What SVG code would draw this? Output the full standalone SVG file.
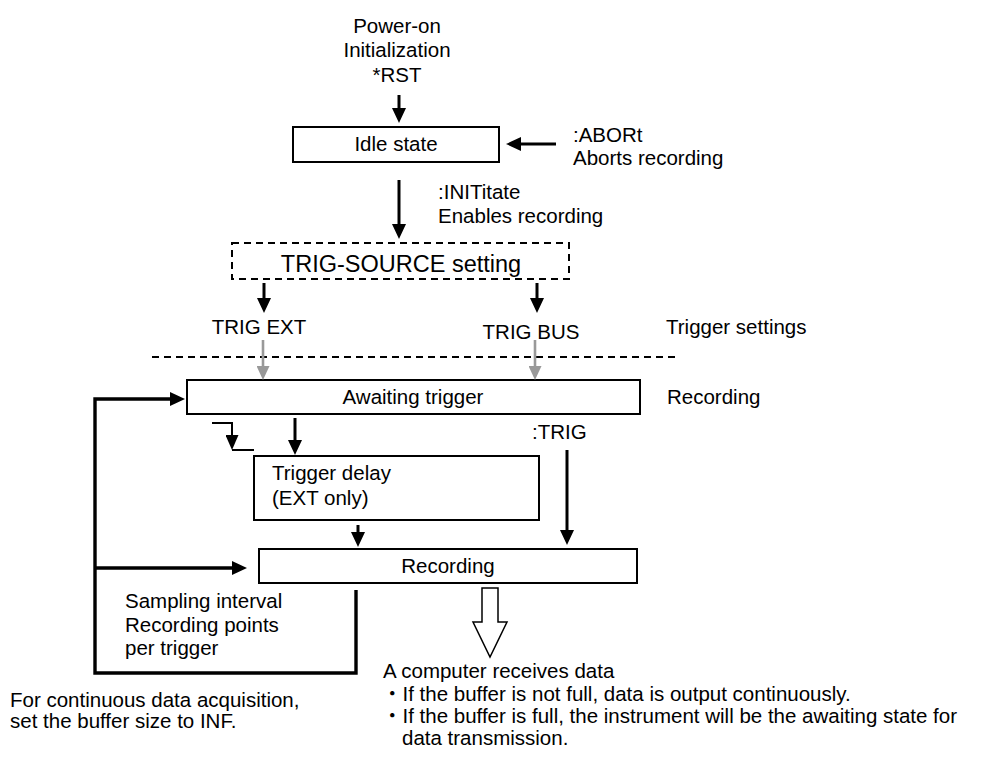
<svg xmlns="http://www.w3.org/2000/svg" width="985" height="763" viewBox="0 0 985 763">
<style>
text{font-family:"Liberation Sans","Noto Sans CJK JP",Arial,sans-serif;font-size:20.5px;fill:#000}
.c{text-anchor:middle}
.box{fill:#fff;stroke:#000;stroke-width:2}
.dbox{fill:#fff;stroke:#000;stroke-width:2;stroke-dasharray:7 5}
.ar{stroke:#000;stroke-width:3;fill:none;marker-end:url(#ah)}
.arg{stroke:#999;stroke-width:2.6;fill:none;marker-end:url(#ahg)}
.ln{stroke:#000;stroke-width:3.4;fill:none}
.thin{stroke:#000;stroke-width:2;fill:none}
</style>
<defs>
<marker id="ah" viewBox="0 0 15 14" markerWidth="15" markerHeight="14" markerUnits="userSpaceOnUse" refX="5" refY="7" orient="auto"><path d="M0,0 L15,7 L0,14 z" fill="#000"/></marker>
<marker id="ahs" viewBox="0 0 15 13" markerWidth="15" markerHeight="13" markerUnits="userSpaceOnUse" refX="5" refY="6.5" orient="auto"><path d="M0,0 L15,6.5 L0,13 z" fill="#000"/></marker>
<marker id="ahg" viewBox="0 0 14 13" markerWidth="14" markerHeight="13" markerUnits="userSpaceOnUse" refX="4" refY="6.5" orient="auto"><path d="M0,0 L14,6.5 L0,13 z" fill="#999"/></marker>
</defs>

<g id="start-label">
<text class="c" x="397" y="33">Power-on</text>
<text class="c" x="397" y="57">Initialization</text>
<text class="c" x="397" y="82">*RST</text>
</g>

<g id="idle">
<rect class="box" x="293" y="127" width="206" height="35"/>
<text class="c" x="396" y="151">Idle state</text>
</g>

<g id="abort-label">
<text x="573" y="142">:ABORt</text>
<text x="573" y="165">Aborts recording</text>
</g>

<g id="init-label">
<text x="438" y="199">:INITitate</text>
<text x="438" y="223">Enables recording</text>
</g>

<g id="trig-source">
<rect class="dbox" x="232" y="243" width="337" height="36"/>
<text class="c" x="401" y="272" style="font-size:23.5px">TRIG-SOURCE setting</text>
</g>

<g id="trig-labels">
<text class="c" x="259" y="334">TRIG EXT</text>
<text class="c" x="531" y="339">TRIG BUS</text>
<text x="666" y="334">Trigger settings</text>
<text x="667" y="404">Recording</text>
<text x="532" y="439">:TRIG</text>
</g>

<g id="separator">
<line x1="152" y1="357" x2="677" y2="357" stroke="#000" stroke-width="2" stroke-dasharray="7 5"/>
</g>

<g id="awaiting">
<rect class="box" x="187" y="380" width="453" height="34"/>
<text class="c" x="413" y="404">Awaiting trigger</text>
</g>

<g id="delay">
<rect class="box" x="254" y="456" width="285" height="64"/>
<text x="272" y="480">Trigger delay</text>
<text x="272" y="505">(EXT only)</text>
</g>

<g id="recording">
<rect class="box" x="259" y="549" width="378" height="34"/>
<text class="c" x="448" y="573">Recording</text>
</g>

<g id="loop-label">
<text x="125" y="608">Sampling interval</text>
<text x="125" y="632">Recording points</text>
<text x="125" y="655">per trigger</text>
</g>

<g id="notes">
<text x="10" y="707">For continuous data acquisition,</text>
<text x="10" y="728">set the buffer size to INF.</text>
<text x="383" y="678">A computer receives data</text>
<text x="382" y="701">・If the buffer is not full, data is output continuously.</text>
<text x="382" y="723">・If the buffer is full, the instrument will be the awaiting state for</text>
<text x="402" y="745">data transmission.</text>
</g>

<g id="connectors">
<line class="ar" x1="399" y1="95" x2="399" y2="113"/>
<line class="ar" x1="556" y1="144" x2="516" y2="144"/>
<line class="ar" x1="399" y1="180" x2="399" y2="229"/>
<line class="ar" x1="264" y1="283" x2="264" y2="303"/>
<line class="ar" x1="537" y1="283" x2="537" y2="303"/>
<line class="arg" x1="263" y1="340" x2="263" y2="370"/>
<line class="arg" x1="535" y1="340" x2="535" y2="370"/>
<line class="ar" x1="295" y1="418" x2="295" y2="445"/>
<path class="thin" d="M212,423 H232 V440" marker-end="url(#ahs)"/>
<line class="thin" x1="232" y1="450" x2="254" y2="450"/>
<line class="ar" x1="358" y1="525" x2="358" y2="537"/>
<line class="ar" x1="567" y1="450" x2="567" y2="535"/>
<path class="ln" d="M356,590 V673 H95 V399 H175" marker-end="url(#ah)"/>
<line class="ar" x1="95" y1="568" x2="237" y2="568" style="stroke-width:3.4"/>
<polygon points="482,588 498,588 498,622 507,622 490,657 473,622 482,622" fill="#fff" stroke="#000" stroke-width="1.5"/>
</g>
</svg>
